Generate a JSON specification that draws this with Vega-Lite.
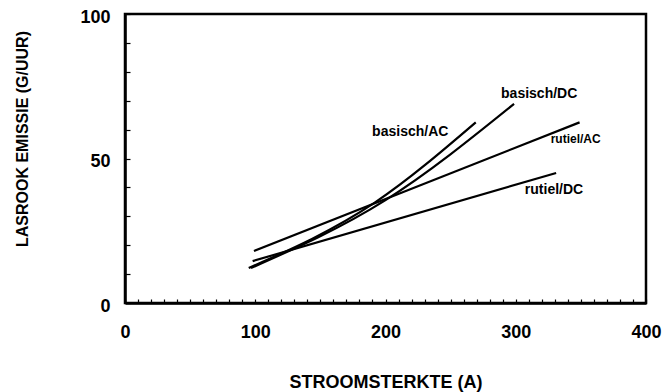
{
  "$schema": "https://vega.github.io/schema/vega-lite/v6.json",
  "width": 521,
  "height": 289,
  "autosize": {"type": "none"},
  "padding": {"left": 125, "top": 14, "right": 16, "bottom": 89},
  "background": "white",
  "config": {
    "view": {"stroke": "black", "strokeWidth": 2.5},
    "font": "Liberation Sans",
    "axis": {"grid": false}
  },
  "datasets": {
    "lines": [
      {"series": "basisch/AC", "stroom": 95, "emissie": 12.1},
      {"series": "basisch/AC", "stroom": 192, "emissie": 34.8},
      {"series": "basisch/AC", "stroom": 269.3, "emissie": 62.5},
      {"series": "basisch/DC", "stroom": 96.7, "emissie": 12.1},
      {"series": "basisch/DC", "stroom": 200, "emissie": 35.6},
      {"series": "basisch/DC", "stroom": 298.7, "emissie": 68.9},
      {"series": "rutiel/AC", "stroom": 99, "emissie": 18},
      {"series": "rutiel/AC", "stroom": 349, "emissie": 62.5},
      {"series": "rutiel/DC", "stroom": 98, "emissie": 14.5},
      {"series": "rutiel/DC", "stroom": 331, "emissie": 45}
    ],
    "labels": [
      {"label": "basisch/AC", "stroom": 219, "emissie": 59.2, "size": 14},
      {"label": "basisch/DC", "stroom": 318, "emissie": 72.3, "size": 14},
      {"label": "rutiel/AC", "stroom": 346, "emissie": 56.7, "size": 12},
      {"label": "rutiel/DC", "stroom": 329.4, "emissie": 39.1, "size": 14}
    ]
  },
  "layer": [
    {
      "data": {"name": "lines"},
      "mark": {"type": "line", "color": "black", "strokeWidth": 2.2, "interpolate": "monotone"},
      "encoding": {
        "x": {
          "field": "stroom", "type": "quantitative",
          "scale": {"domain": [0, 400], "nice": false},
          "axis": {
            "values": [0,10,20,30,40,50,60,70,80,90,100,110,120,130,140,150,160,170,180,190,200,210,220,230,240,250,260,270,280,290,300,310,320,330,340,350,360,370,380,390,400],
            "tickCount": 100,
            "labelExpr": "datum.value % 100 === 0 ? datum.label : ''",
            "tickSize": -4,
            "tickWidth": 1.2,
            "tickColor": "black",
            "domainColor": "black",
            "domainWidth": 2.5,
            "labelFont": "Liberation Sans",
            "labelFontWeight": "bold",
            "labelFontSize": 18,
            "labelColor": "black",
            "labelPadding": 24,
            "labelFlush": false,
            "labelOverlap": false,
            "title": "STROOMSTERKTE (A)",
            "titleFont": "Liberation Sans",
            "titleFontWeight": "bold",
            "titleFontSize": 18,
            "titleColor": "black",
            "titleX": 260.5,
            "titleY": 79,
            "titleBaseline": "middle",
            "titleAlign": "center"
          }
        },
        "y": {
          "field": "emissie", "type": "quantitative",
          "scale": {"domain": [0, 100], "nice": false},
          "axis": {
            "values": [0,10,20,30,40,50,60,70,80,90,100],
            "tickCount": 100,
            "labelExpr": "datum.value % 50 === 0 ? datum.label : ''",
            "tickSize": -5,
            "tickWidth": 1.2,
            "tickColor": "black",
            "domainColor": "black",
            "domainWidth": 2.5,
            "labelFont": "Liberation Sans",
            "labelFontWeight": "bold",
            "labelFontSize": 18,
            "labelColor": "black",
            "labelPadding": 20,
            "labelOffset": 3,
            "labelFlush": false,
            "labelOverlap": false,
            "title": "LASROOK EMISSIE (G/UUR)",
            "titleFont": "Liberation Sans",
            "titleFontWeight": "bold",
            "titleFontSize": 16,
            "titleColor": "black",
            "titleAngle": -90,
            "titleX": -103,
            "titleY": 124.5,
            "titleBaseline": "middle",
            "titleAlign": "center"
          }
        },
        "detail": {"field": "series", "type": "nominal"}
      }
    },
    {
      "data": {"name": "labels"},
      "mark": {"type": "text", "font": "Liberation Sans", "fontWeight": "bold", "color": "black", "align": "center", "baseline": "middle"},
      "encoding": {
        "x": {"field": "stroom", "type": "quantitative"},
        "y": {"field": "emissie", "type": "quantitative"},
        "text": {"field": "label"},
        "size": {"field": "size", "type": "quantitative", "scale": null, "legend": null}
      }
    }
  ]
}
